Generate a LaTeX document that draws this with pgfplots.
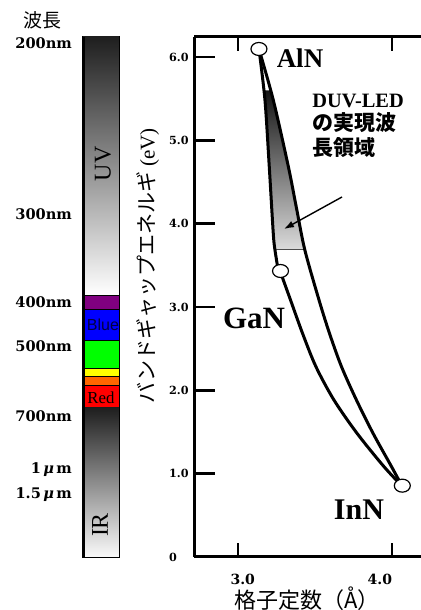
\documentclass[border=0pt]{standalone}
\usepackage{pgfplots}
\pgfplotsset{compat=1.18}
\usetikzlibrary{arrows.meta}
\usepackage{fontspec}
\setmainfont{Liberation Serif}
\newfontfamily\cjk{Noto Sans CJK JP}
\newfontfamily\dvs{DejaVu Serif}
\newfontfamily\lsans{Liberation Sans}
\definecolor{bpurple}{RGB}{128,0,128}
\definecolor{bblue}{RGB}{0,0,255}
\definecolor{bgreen}{RGB}{0,255,0}
\definecolor{byellow}{RGB}{255,255,0}
\definecolor{borange}{RGB}{255,102,0}
\definecolor{bred}{RGB}{255,0,0}
\begin{document}
\begin{tikzpicture}
\path[use as bounding box] (0,0) rectangle (210pt,305pt);

% ---------------- spectrum bar ----------------
\begin{axis}[
  at={(41.5pt,26.5pt)}, anchor=south west,
  scale only axis, width=18pt, height=260pt,
  xmin=0, xmax=1, ymin=0, ymax=6.24,
  xtick=\empty,
  ytick={0,0.792,1.092,1.74,2.58,3.108,4.164,6.216},
  yticklabels={,{1.5\,{\itshape μ}\,m},{1\,{\itshape μ}\,m},700nm,500nm,400nm,300nm,\raisebox{-2.5pt}{200nm}},
  ytick pos=left, tick align=inside, major tick length=6pt,
  ytick style={line width=1.2pt, black},
  yticklabel style={xshift=-2pt, yshift=-2pt, font=\dvs\bfseries\fontsize{7.3}{8}\selectfont},
  axis line style={line width=0.6pt},
]
\addplot[draw=none, top color=black!88, middle color=black!22, bottom color=white] coordinates {(0,3.144) (1,3.144) (1,6.24) (0,6.24)} -- cycle;
\addplot[fill=bpurple, draw=black, line width=0.4pt] coordinates {(0,2.968) (1,2.968) (1,3.144) (0,3.144)} -- cycle;
\addplot[fill=bblue, draw=black, line width=0.4pt] coordinates {(0,2.600) (1,2.600) (1,2.968) (0,2.968)} -- cycle;
\addplot[fill=bgreen, draw=black, line width=0.4pt] coordinates {(0,2.260) (1,2.260) (1,2.600) (0,2.600)} -- cycle;
\addplot[fill=byellow, draw=black, line width=0.4pt] coordinates {(0,2.166) (1,2.166) (1,2.260) (0,2.260)} -- cycle;
\addplot[fill=borange, draw=black, line width=0.4pt] coordinates {(0,2.060) (1,2.060) (1,2.166) (0,2.166)} -- cycle;
\addplot[fill=bred, draw=black, line width=0.4pt] coordinates {(0,1.788) (1,1.788) (1,2.060) (0,2.060)} -- cycle;
\addplot[draw=none, top color=black!88, middle color=black!32, bottom color=black!2] coordinates {(0,0) (1,0) (1,1.788) (0,1.788)} -- cycle;
\draw[line width=1.8pt] (rel axis cs:0,0) -- (rel axis cs:0,1);
\end{axis}

% ---------------- main axis (y ticks, spines, data) ----------------
\begin{axis}[
  at={(97pt,26.5pt)}, anchor=south west,
  scale only axis, width=114.4pt, height=260pt,
  xmin=2.7143, xmax=4.2, ymin=0, ymax=6.24,
  axis x line=box, axis y line=left,
  axis line style={line width=1.5pt, -},
  xtick=\empty,
  ytick={0,1,2,3,4,5,6}, yticklabels={0,1.0,2.0,3.0,4.0,5.0,6.0},
  ytick pos=left, ytick align=inside, major tick length=10.5pt,
  ytick style={line width=1.2pt, black},
  yticklabel style={anchor=west, xshift=-16pt, font=\dvs\bfseries\fontsize{5.6}{6}\selectfont},
  clip=false,
]
% DUV-LED region
\addplot[draw=none, top color=black!92, middle color=black!40, bottom color=black!14]
  coordinates {(3.168,5.6) (3.175,5.484) (3.203,4.684) (3.229,3.884) (3.240,3.684)
               (3.434,3.684) (3.380,4.184) (3.327,4.684) (3.278,5.088) (3.229,5.484) (3.211,5.6)} -- cycle;
\addplot[black!70, line width=0.5pt] coordinates {(3.240,3.684) (3.434,3.684)};
% AlN - GaN
\addplot[black, line width=1.5pt, smooth] coordinates {(3.136,6.096) (3.175,5.484) (3.203,4.684) (3.229,3.884) (3.240,3.684) (3.262,3.432)};
% GaN - InN
\addplot[black, line width=1.5pt, smooth] coordinates {(3.273,3.432) (3.341,3.084) (3.419,2.684) (3.506,2.284) (3.623,1.884) (3.773,1.484) (3.948,1.084) (4.065,0.852)};
% AlN - InN
\addplot[black, line width=1.5pt, smooth] coordinates {(3.136,6.096) (3.229,5.484) (3.327,4.684) (3.380,4.184) (3.434,3.684) (3.526,3.084) (3.594,2.684) (3.672,2.284) (3.769,1.884) (3.877,1.484) (3.997,1.084) (4.065,0.852)};
% compounds
\addplot[only marks, mark=*, mark size=3.25pt, mark options={fill=white, draw=black, line width=0.6pt, xscale=1.23}]
  coordinates {(3.136,6.096) (3.276,3.432) (4.067,0.856)};
\end{axis}

% ---------------- x ticks ----------------
\begin{axis}[
  at={(97pt,26.5pt)}, anchor=south west,
  scale only axis, width=114.4pt, height=260pt,
  xmin=2.7143, xmax=4.2, ymin=0, ymax=6.24,
  axis x line=box, axis y line=none,
  axis line style={draw=none},
  ytick=\empty,
  xtick={3,4}, xticklabels={\hspace{4.8pt}3.0, \makebox[0pt][r]{4.0}},
  xtick pos=both, xtick align=inside, major tick length=7pt,
  xtick style={line width=1pt, black},
  xticklabel pos=lower,
  xticklabel style={yshift=-5pt, font=\dvs\bfseries\fontsize{7}{8}\selectfont},
]
\end{axis}

% ---------------- texts ----------------
\node[font=\cjk\fontsize{9.5}{10}\selectfont] at (21.5pt,295pt) {波長};
\node[rotate=90, font=\fontsize{12}{12}\selectfont] at (51.5pt,223pt) {UV};
\node[rotate=90, font=\fontsize{12}{12}\selectfont] at (50pt,42.5pt) {IR};
\node[font=\lsans\fontsize{8}{8}\selectfont, text=black!75!blue] at (51.5pt,142.5pt) {Blue};
\node[font=\fontsize{8.4}{8}\selectfont] at (50.5pt,106pt) {Red};
\node[rotate=90, font=\fontsize{10.5}{11}\selectfont] at (74pt,172pt) {{\cjk バンドギャップエネルギ} (eV)};
\node[font=\cjk\fontsize{11}{11}\selectfont] at (153.5pt,5.5pt) {格子定数（Å）};
\node[font=\bfseries\fontsize{13.5}{14}\selectfont] at (150pt,276pt) {AlN};
\node[font=\bfseries\fontsize{15.5}{16}\selectfont] at (127pt,146pt) {GaN};
\node[font=\bfseries\fontsize{15}{16}\selectfont] at (179.5pt,50pt) {InN};
\node[anchor=base west, inner sep=0, font=\bfseries\fontsize{10.2}{11}\selectfont] at (156pt,251pt) {DUV-LED};
\node[anchor=base west, inner sep=0, font=\cjk\bfseries\fontsize{10.5}{11}\selectfont] at (156pt,239.75pt) {の実現波};
\node[anchor=base west, inner sep=0, font=\cjk\bfseries\fontsize{10.5}{11}\selectfont] at (156pt,227.25pt) {長領域};
\draw[line width=0.7pt, -{Latex[length=5pt,width=3.5pt]}] (171pt,206.5pt) -- (142pt,190.5pt);
\end{tikzpicture}
\end{document}
